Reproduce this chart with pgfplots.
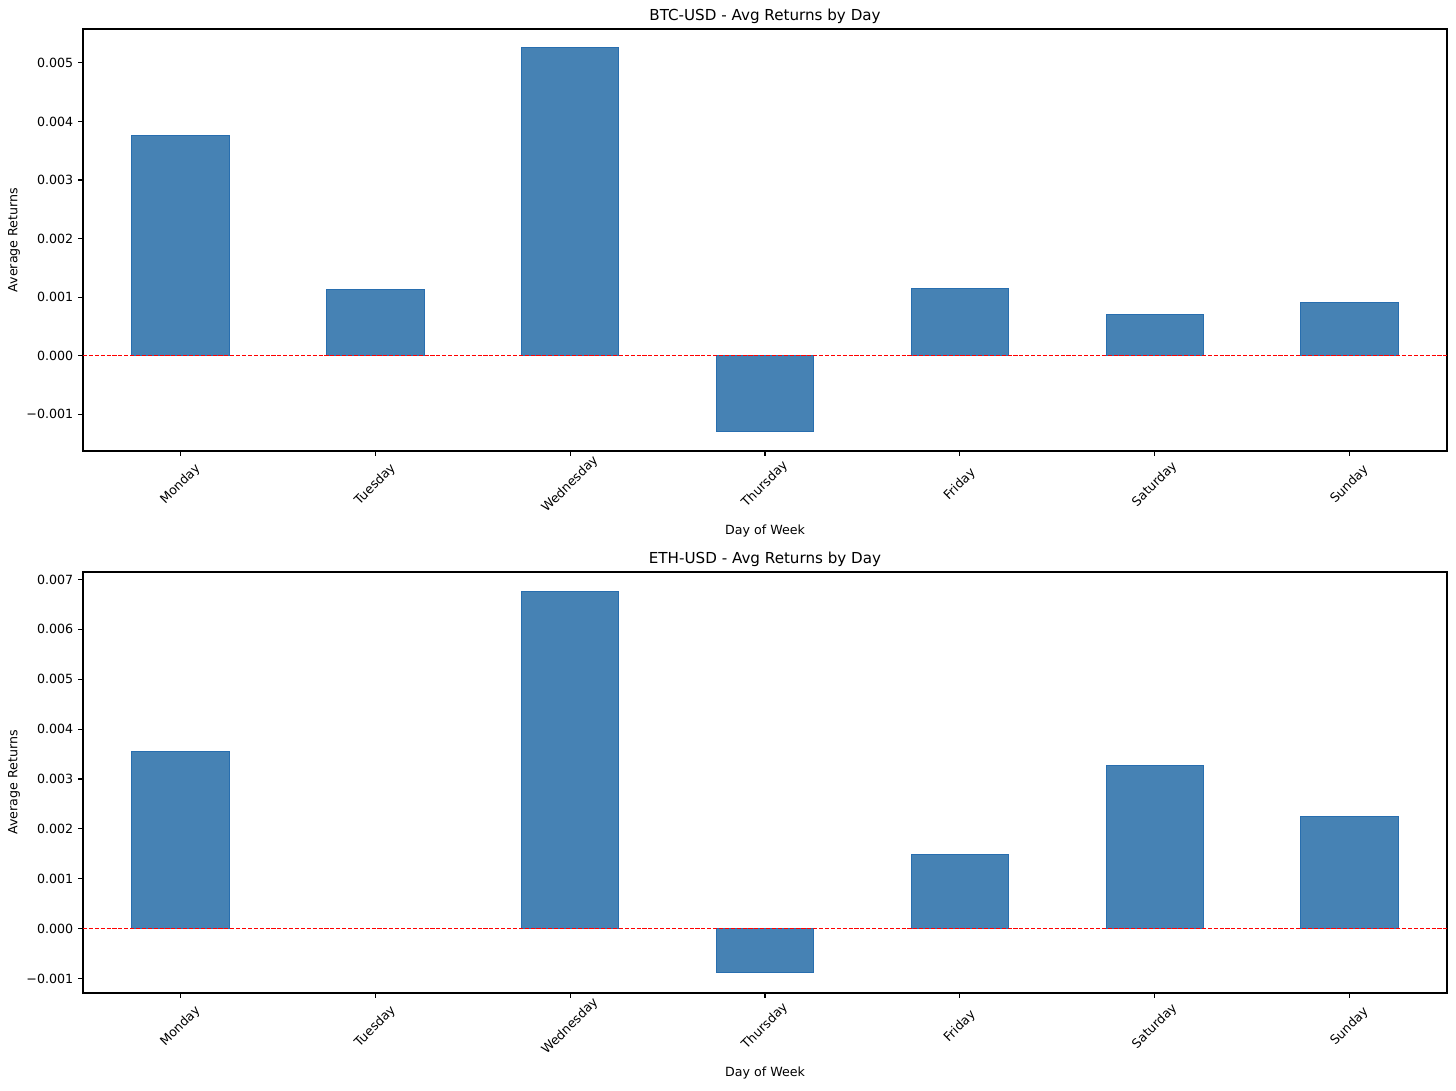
\documentclass[border=0pt]{standalone}
\usepackage{pgfplots}
\pgfplotsset{compat=1.18}
\usepackage{fontspec}
\setmainfont{DejaVu Sans}
\definecolor{steelblue}{RGB}{70,130,180}
\definecolor{baredge}{RGB}{40,110,175}
\definecolor{zred}{RGB}{255,0,0}
\pgfplotsset{
  dayaxis/.style={
    scale only axis, width=982.08pt, anchor=south west,
    xmin=-0.5, xmax=6.5,
    xtick={0,...,6},
    xticklabels={Monday,Tuesday,Wednesday,Thursday,Friday,Saturday,Sunday},
    scaled y ticks=false,
    tick align=outside, major tick length=3.5pt,
    xtick pos=bottom, ytick pos=left,
    axis line style={line width=0.8pt},
    every tick/.style={black, line width=0.8pt},
    tick label style={font=\fontsize{9.1}{11}\selectfont},
    xticklabel style={rotate=45, anchor=center, xshift=-14.6pt, yshift=-14.6pt},
    label style={font=\fontsize{9.1}{11}\selectfont},
    xlabel={Day of Week},
    ylabel={Average Returns},
    xlabel style={at={(axis description cs:0.5,-0.19)}, anchor=center},
    ylabel style={at={(axis description cs:-0.0506,0.5)}, anchor=center},
    title style={at={(axis description cs:0.5,1)}, anchor=base, yshift=0pt,
      font=\fontsize{10.9}{13}\selectfont},
  },
  bars/.style={ybar, bar width=0.5, fill=steelblue, draw=baredge, line width=0.6pt},
  zeroline/.style={color=zred, line width=0.8pt, dash pattern=on 2.96pt off 1.28pt},
}
\begin{document}
\begin{tikzpicture}
\path (0,0) rectangle (1048.32pt,784.8pt);
\begin{axis}[dayaxis, at={(59.76pt,460.08pt)}, height=303.84pt,
    ymin=-0.00163, ymax=0.00558,
    ytick={-0.001,0,0.001,0.002,0.003,0.004,0.005},
    yticklabels={−0.001,0.000,0.001,0.002,0.003,0.004,0.005},
    title={BTC-USD - Avg Returns by Day}]
  \addplot[bars] coordinates {(0,0.00376) (1,0.00113) (2,0.00526) (3,-0.00130) (4,0.00114) (5,0.00070) (6,0.00090)};
  \addplot[zeroline] coordinates {(-0.5,0) (6.5,0)};
\end{axis}
\begin{axis}[dayaxis, at={(59.76pt,69.84pt)}, height=303.12pt,
    ymin=-0.00129, ymax=0.00715,
    ytick={-0.001,0,0.001,0.002,0.003,0.004,0.005,0.006,0.007},
    yticklabels={−0.001,0.000,0.001,0.002,0.003,0.004,0.005,0.006,0.007},
    title={ETH-USD - Avg Returns by Day}]
  \addplot[bars] coordinates {(0,0.00356) (2,0.00676) (3,-0.00088) (4,0.00148) (5,0.00327) (6,0.00225)};
  \addplot[zeroline] coordinates {(-0.5,0) (6.5,0)};
\end{axis}
\end{tikzpicture}
\end{document}
